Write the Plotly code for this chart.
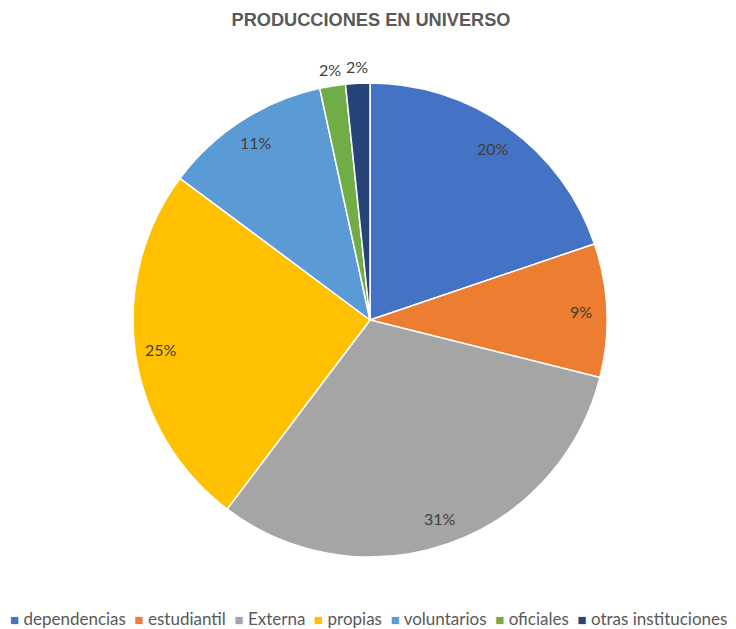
import math
import plotly.graph_objects as go

categories = ["dependencias", "estudiantil", "Externa", "propias", "voluntarios", "oficiales", "otras instituciones"]
values = [19.8, 9.1, 31.4, 24.9, 11.4, 1.75, 1.65]
colors = ["#4472C4", "#ED7D31", "#A5A5A5", "#FFC000", "#5B9BD5", "#70AD47", "#264478"]
title_text = "PRODUCCIONES EN UNIVERSO"

W, H = 736, 629
OFF = 8  # page body margin offset
cx, cy, R = 370 - OFF, 320 - OFF, 237  # pixel geometry of pie (figure coords)

fig = go.Figure()
fig.add_trace(go.Pie(
    labels=categories,
    values=values,
    sort=False,
    direction="clockwise",
    rotation=0,
    marker=dict(colors=colors, line=dict(color="white", width=1.5)),
    textinfo="none",
    hoverinfo="label+percent",
    domain=dict(x=[(cx - R) / W, (cx + R) / W], y=[1 - (cy + R) / H, 1 - (cy - R) / H]),
    showlegend=False,
))

total = sum(values)
cum = 0.0
for cat, v in zip(categories, values):
    frac = v / total
    mid = (cum + frac / 2) * 2 * math.pi
    cum += frac
    rf = 0.89 if frac > 0.05 else 1.07
    px = cx + rf * R * math.sin(mid)
    py = cy - rf * R * math.cos(mid)
    fig.add_annotation(
        x=px / W, y=1 - py / H, xref="paper", yref="paper",
        text=f"{round(frac * 100)}%", showarrow=False,
        font=dict(family="Lato, Open Sans, sans-serif", size=16, color="#404040"),
        xanchor="center", yanchor="middle",
    )

# Legend row (Excel-style: small coloured squares followed by labels)
legend_parts = [
    f'<span style="color:{c};font-size:15px">■</span> {lab}'
    for lab, c in zip(categories, colors)
]
fig.add_annotation(
    x=(368 - OFF) / W, y=1 - (618 - OFF) / H, xref="paper", yref="paper",
    text=" &nbsp;".join(legend_parts), showarrow=False,
    font=dict(family="Lato, Open Sans, sans-serif", size=17, color="#595959"),
    xanchor="center", yanchor="middle",
)

fig.update_layout(
    width=W, height=H,
    margin=dict(l=0, r=0, t=0, b=0),
    paper_bgcolor="white",
    plot_bgcolor="white",
    showlegend=False,
    title=dict(text=f"<b>{title_text}</b>", x=(371 - OFF) / W, xanchor="center", y=1 - (20 - OFF) / H,
               yanchor="middle",
               font=dict(family="Liberation Sans, Arial, sans-serif", size=18.2, color="#595959")),
)

fig.write_html("out.html")
